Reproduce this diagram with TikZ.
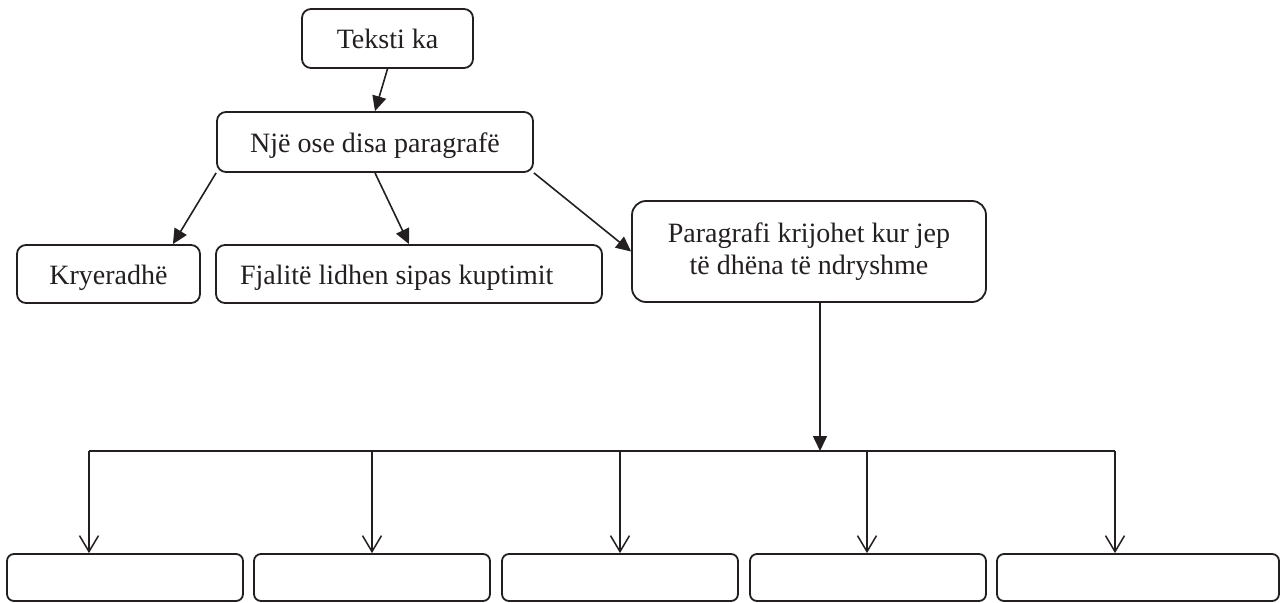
\documentclass[tikz,border=0pt]{standalone}
\usepackage{fontspec}
\setmainfont{Liberation Serif}
\usetikzlibrary{arrows.meta,calc}
\definecolor{ink}{HTML}{231F20}
\tikzset{
  box/.style={draw=ink, line width=1.8pt, rounded corners=9pt, inner sep=0pt,
    text=ink, font=\fontsize{28}{32}\selectfont, align=center},
  onebox/.style={box, text height=20pt, text depth=0pt},
  emptybox/.style={draw=ink, line width=1.8pt, rounded corners=7pt, inner sep=0pt,
    minimum height=47pt},
  solidarrow/.style={draw=ink, line width=1.6pt, -{Triangle[length=15pt,width=14pt]}},
  openarrow/.style={draw=ink, line width=1.5pt, -{Straight Barb[length=16pt,width=19pt,line width=1.5pt]}},
  plain/.style={draw=ink, line width=1.6pt}
}
\begin{document}
\begin{tikzpicture}[x=1pt,y=-1pt]
\useasboundingbox (0,0) rectangle (1284,602);
% top boxes
\node[onebox, minimum width=171pt, minimum height=59pt] (T) at (387.5,38.5) {Teksti ka};
\node[onebox, minimum width=316pt, minimum height=60pt] (N) at (375,142) {Një ose disa paragrafë};
\node[onebox, minimum width=183pt, minimum height=58pt] (K) at (108.5,274) {Kryeradhë};
\node[onebox, minimum width=386pt, minimum height=58pt, inner xsep=24pt] (F) at (409,274) {\makebox[338pt][l]{Fjalitë lidhen sipas kuptimit}};
\node[box, rounded corners=14pt, minimum width=354pt, minimum height=101pt] (P) at (809,251.5) {Paragrafi krijohet kur jep\\të dhëna të ndryshme};
% bottom boxes
\node[emptybox, minimum width=236pt] (B1) at (125,577.5) {};
\node[emptybox, minimum width=236pt] (B2) at (372,577.5) {};
\node[emptybox, minimum width=236pt] (B3) at (620,577.5) {};
\node[emptybox, minimum width=236pt] (B4) at (868,577.5) {};
\node[emptybox, minimum width=282pt] (B5) at (1138,577.5) {};
% connectors top
\draw[solidarrow] (T.south) -- (N.north);
\draw[solidarrow] (N.south west) -- ($(K.north east)+(-28,0)$);
\draw[solidarrow] (N.south) -- (F.north);
\draw[solidarrow] (N.south east) -- (P.west);
% distribution line
\coordinate (J) at (820,451);
\coordinate (c1) at (89,451);
\coordinate (c2) at (372,451);
\coordinate (c3) at (620,451);
\coordinate (c4) at (867,451);
\coordinate (c5) at (1115,451);
\draw[solidarrow] (P.south -| J) -- (J);
\draw[plain] (c1) -- (c5);
\draw[openarrow] (c1) -- (c1 |- B1.north);
\draw[openarrow] (c2) -- (c2 |- B2.north);
\draw[openarrow] (c3) -- (c3 |- B3.north);
\draw[openarrow] (c4) -- (c4 |- B4.north);
\draw[openarrow] (c5) -- (c5 |- B5.north);
\end{tikzpicture}
\end{document}
